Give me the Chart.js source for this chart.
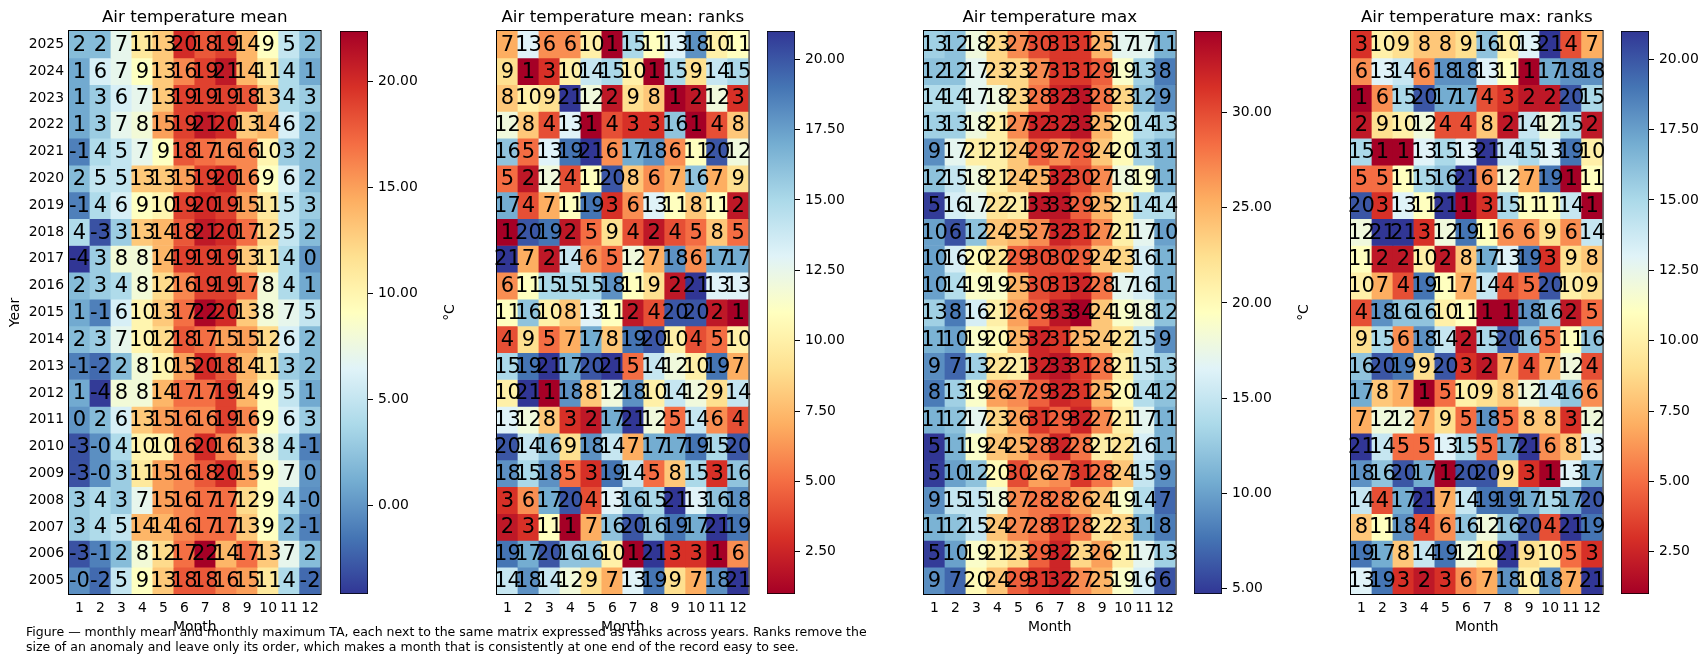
<!DOCTYPE html>
<html>
<head>
<meta charset="utf-8">
<script src="https://cdn.jsdelivr.net/npm/chart.js@4.4.1/dist/chart.umd.min.js"></script>
<style>
  html, body { margin: 0; padding: 0; background: #fff; }
  #fig { position: relative; width: 1707px; height: 663px; overflow: hidden; background: #fff; }
  #fig canvas { position: absolute; top: 0; }
  #caption {
    position: absolute; left: 26px; top: 624px;
    font-family: "DejaVu Sans"; font-size: 12.5px; line-height: 15px;
    color: #000; white-space: nowrap;
  }
</style>
</head>
<body>
<div id="fig">
  <div id="caption">Figure — monthly mean and monthly maximum TA, each next to the same matrix expressed as ranks across years. Ranks remove the<br>size of an anomaly and leave only its order, which makes a month that is consistently at one end of the record easy to see.</div>
</div>
<script>
// rows top to bottom, as shown in the figure
const years = [2025, 2024, 2023, 2022, 2021, 2020, 2019, 2018, 2017, 2016, 2015,
  2014, 2013, 2012, 2011, 2010, 2009, 2008, 2007, 2006, 2005];
const months = ["1", "2", "3", "4", "5", "6", "7", "8", "9", "10", "11", "12"];

// monthly mean air temperature (°C)
const meanTemp = [
  [2, 2, 7, 11, 13, 20, 18, 19, 14, 9, 5, 2],
  [1, 6, 7, 9, 13, 16, 19, 21, 14, 11, 4, 1],
  [1, 3, 6, 7, 13, 19, 19, 19, 18, 13, 4, 3],
  [1, 3, 7, 8, 15, 19, 21, 20, 13, 14, 6, 2],
  [-1, 4, 5, 7, 9, 18, 17, 16, 16, 10, 3, 2],
  [2, 5, 5, 13, 13, 15, 19, 20, 16, 9, 6, 2],
  [-1, 4, 6, 9, 10, 19, 20, 19, 15, 11, 5, 3],
  [4, -3, 3, 13, 14, 18, 21, 20, 17, 12, 5, 2],
  [-4.2, 3, 8, 8, 14, 19, 19, 19, 13, 11, 4, 0],
  [2, 3, 4, 8, 12, 16, 19, 19, 17, 8, 4, 1],
  [1, -1, 6, 10, 13, 17, 22, 20, 13, 8, 7, 5],
  [2, 3, 7, 10, 12, 18, 17, 15, 15, 12, 6, 2],
  [-1, -2, 2, 8, 10, 15, 20, 18, 14, 11, 3, 2],
  [1, -4, 8, 8, 14, 17, 17, 19, 14, 9, 5, 1],
  [0, 2, 6, 13, 15, 16, 16, 19, 16, 9, 6, 3],
  [-3, -0.3, 4, 10, 10, 16, 20, 16, 13, 8, 4, -1],
  [-3, -0.3, 3, 11, 15, 16, 18, 20, 15, 9, 7, 0],
  [3, 4, 3, 7, 15, 16, 17, 17, 12, 9, 4, -0.3],
  [3, 4, 5, 14, 14, 16, 17, 17, 13, 9, 2, -1],
  [-3, -1, 2, 8, 12, 17, 22.4, 14, 17, 13, 7, 2],
  [-0.3, -2, 5, 9, 13, 18, 18, 16, 15, 11, 4, -2]
];

const meanRank = [
  [7, 13, 6, 6, 10, 1, 15, 11, 13, 18, 10, 11],
  [9, 1, 3, 10, 14, 15, 10, 1, 15, 9, 14, 15],
  [8, 10, 9, 21, 12, 2, 9, 8, 1, 2, 12, 3],
  [12, 8, 4, 13, 1, 4, 3, 3, 16, 1, 4, 8],
  [16, 5, 13, 19, 21, 6, 17, 18, 6, 11, 20, 12],
  [5, 2, 12, 4, 11, 20, 8, 6, 7, 16, 7, 9],
  [17, 4, 7, 11, 19, 3, 6, 13, 11, 8, 11, 2],
  [1, 20, 19, 2, 5, 9, 4, 2, 4, 5, 8, 5],
  [21, 7, 2, 14, 6, 5, 12, 7, 18, 6, 17, 17],
  [6, 11, 15, 15, 15, 18, 11, 9, 2, 21, 13, 13],
  [11, 16, 10, 8, 13, 11, 2, 4, 20, 20, 2, 1],
  [4, 9, 5, 7, 17, 8, 19, 20, 10, 4, 5, 10],
  [15, 19, 21, 17, 20, 21, 5, 14, 12, 10, 19, 7],
  [10, 21, 1, 18, 8, 12, 18, 10, 14, 12, 9, 14],
  [13, 12, 8, 3, 2, 17, 21, 12, 5, 14, 6, 4],
  [20, 14, 16, 9, 18, 14, 7, 17, 17, 19, 15, 20],
  [18, 15, 18, 5, 3, 19, 14, 5, 8, 15, 3, 16],
  [3, 6, 17, 20, 4, 13, 16, 15, 21, 13, 16, 18],
  [2, 3, 11, 1, 7, 16, 20, 16, 19, 17, 21, 19],
  [19, 17, 20, 16, 16, 10, 1, 21, 3, 3, 1, 6],
  [14, 18, 14, 12, 9, 7, 13, 19, 9, 7, 18, 21]
];

// monthly maximum air temperature (°C)
const maxTemp = [
  [13, 12, 18, 23, 27, 30, 31, 31, 25, 17, 17, 11],
  [12, 12, 17, 23, 23, 27, 31, 31, 29, 19, 13, 8],
  [14, 14, 17, 18, 23, 28, 32, 33, 28, 23, 12, 9],
  [13, 13, 18, 21, 27, 32, 32, 33, 25, 20, 14, 13],
  [9, 17, 21, 21, 24, 29, 27, 29, 24, 20, 13, 11],
  [12, 15, 18, 21, 24, 25, 32, 30, 27, 18, 19, 11],
  [5, 16, 17, 22, 21, 33, 33, 29, 25, 21, 14, 14],
  [10, 6, 12, 24, 25, 27, 32, 31, 27, 21, 17, 10],
  [10, 16, 20, 22, 29, 30, 30, 29, 24, 23, 16, 11],
  [10, 14, 19, 19, 25, 30, 31, 32, 28, 17, 16, 11],
  [13, 8, 16, 21, 26, 29, 33, 34.3, 24, 19, 18, 12],
  [11, 10, 19, 20, 25, 32, 31, 25, 24, 22, 15, 9],
  [9, 7, 13, 22, 21, 32, 33, 31, 28, 21, 15, 13],
  [8, 13, 19, 26, 27, 29, 32, 31, 25, 20, 14, 12],
  [11, 12, 17, 23, 26, 31, 29, 32, 27, 21, 17, 11],
  [4.7, 11, 19, 24, 25, 28, 32, 28, 21, 22, 16, 11],
  [5, 10, 12, 20, 30, 26, 27, 31, 28, 24, 15, 9],
  [9, 15, 15, 18, 27, 28, 28, 26, 24, 19, 14, 7],
  [11, 12, 15, 24, 27, 28, 31, 28, 22, 23, 11, 8],
  [5, 10, 19, 21, 23, 29, 32, 23, 26, 21, 17, 13],
  [9, 7, 20, 24, 29, 31, 32, 27, 25, 19, 16, 6]
];

const maxRank = [
  [3, 10, 9, 8, 8, 9, 16, 10, 13, 21, 4, 7],
  [6, 13, 14, 6, 18, 18, 13, 11, 1, 17, 18, 18],
  [1, 6, 15, 20, 17, 17, 4, 3, 2, 2, 20, 15],
  [2, 9, 10, 12, 4, 4, 8, 2, 14, 12, 15, 2],
  [15, 1, 1, 13, 15, 13, 21, 14, 15, 13, 19, 10],
  [5, 5, 11, 15, 16, 21, 6, 12, 7, 19, 1, 11],
  [20, 3, 13, 11, 21, 1, 3, 15, 11, 11, 14, 1],
  [12, 21, 21, 3, 12, 19, 11, 6, 6, 9, 6, 14],
  [11, 2, 2, 10, 2, 8, 17, 13, 19, 3, 9, 8],
  [10, 7, 4, 19, 11, 7, 14, 4, 5, 20, 10, 9],
  [4, 18, 16, 16, 10, 11, 1, 1, 18, 16, 2, 5],
  [9, 15, 6, 18, 14, 2, 15, 20, 16, 5, 11, 16],
  [16, 20, 19, 9, 20, 3, 2, 7, 4, 7, 12, 4],
  [17, 8, 7, 1, 5, 10, 9, 8, 12, 14, 16, 6],
  [7, 12, 12, 7, 9, 5, 18, 5, 8, 8, 3, 12],
  [21, 14, 5, 5, 13, 15, 5, 17, 21, 6, 8, 13],
  [18, 16, 20, 17, 1, 20, 20, 9, 3, 1, 13, 17],
  [14, 4, 17, 21, 7, 14, 19, 19, 17, 15, 17, 20],
  [8, 11, 18, 4, 6, 16, 12, 16, 20, 4, 21, 19],
  [19, 17, 8, 14, 19, 12, 10, 21, 9, 10, 5, 3],
  [13, 19, 3, 2, 3, 6, 7, 18, 10, 18, 7, 21]
];

// colorbar tick values
const meanTicks = [0, 5, 10, 15, 20];
const rankTicks = [2.5, 5, 7.5, 10, 12.5, 15, 17.5, 20];
const maxTicks = [5, 10, 15, 20, 25, 30];

// matplotlib RdYlBu anchors
const rdylbu = ["#a50026", "#d73027", "#f46d43", "#fdae61", "#fee090", "#ffffbf",
  "#e0f3f8", "#abd9e9", "#74add1", "#4575b4", "#313695"];

const hexRgb = (h) => [1, 3, 5].map((i) => parseInt(h.substr(i, 2), 16));

const cmap = (t, reversed) => {
  t = Math.min(1, Math.max(0, t));
  if (reversed) t = 1 - t;
  const p = t * (rdylbu.length - 1);
  const i = Math.min(rdylbu.length - 2, Math.floor(p));
  const f = p - i;
  const a = hexRgb(rdylbu[i]), b = hexRgb(rdylbu[i + 1]);
  const c = a.map((v, k) => Math.round(v + (b[k] - v) * f));
  return "rgb(" + c.join(",") + ")";
};

Chart.defaults.font.family = "DejaVu Sans";
Chart.defaults.color = "#000";

const FIG_H = 663;
const AXES_TOP = 31;
const AXES_BOTTOM = 594;
const AXES_W = 254;
const CB_W = 28;
const tickFont = { size: 13.9 };

const panels = [
  { title: "Air temperature mean", values: meanTemp, reversed: true, ticks: meanTicks, unit: "°C", left: 69, cbLeft: 340 },
  { title: "Air temperature mean: ranks", values: meanRank, reversed: false, ticks: rankTicks, unit: "", left: 497, cbLeft: 767 },
  { title: "Air temperature max", values: maxTemp, reversed: true, ticks: maxTicks, unit: "°C", left: 924, cbLeft: 1194 },
  { title: "Air temperature max: ranks", values: maxRank, reversed: false, ticks: rankTicks, unit: "", left: 1351, cbLeft: 1621 }
];

const fig = document.getElementById("fig");
const addCanvas = (left, width) => {
  const c = document.createElement("canvas");
  c.width = width;
  c.height = FIG_H;
  c.style.left = left + "px";
  fig.insertBefore(c, document.getElementById("caption"));
  return c;
};

// cell numbers, axes frame and title
const heatPlugin = {
  id: "heatText",
  afterDatasetsDraw(chart, args, opts) {
    const ctx = chart.ctx;
    const a = chart.chartArea;
    ctx.save();
    ctx.font = '21px "DejaVu Sans"';
    ctx.fillStyle = "#000";
    ctx.textAlign = "center";
    ctx.textBaseline = "middle";
    chart.data.datasets.forEach((ds, i) => {
      chart.getDatasetMeta(i).data.forEach((bar, j) => {
        ctx.fillText(opts.values[i][j].toFixed(0), bar.x, (bar.y + bar.base) / 2 + 1);
      });
    });
    ctx.strokeStyle = "#000";
    ctx.lineWidth = 1;
    ctx.strokeRect(a.left - 0.5, a.top - 0.5, a.right - a.left + 1, a.bottom - a.top + 1);
    ctx.font = '16.7px "DejaVu Sans"';
    ctx.fillText(opts.title, (a.left + a.right) / 2, 18);
    ctx.restore();
  }
};

const makeHeatmap = (p, idx) => {
  const padLeft = idx === 0 ? 69 : 2;
  const canvas = addCanvas(p.left - padLeft, padLeft + AXES_W + 2);
  const lo = Math.min(...p.values.flat());
  const hi = Math.max(...p.values.flat());
  const datasets = years.map((yr, r) => {
    const yi = years.length - 1 - r;
    return {
      label: String(yr),
      data: months.map(() => [yi - 0.5, yi + 0.5]),
      backgroundColor: p.values[r].map((v) => cmap((v - lo) / (hi - lo), p.reversed)),
      borderWidth: 0,
      barPercentage: 1,
      categoryPercentage: 1,
      grouped: false
    };
  });
  return new Chart(canvas, {
    type: "bar",
    data: { labels: months, datasets },
    options: {
      responsive: false,
      animation: false,
      layout: { padding: { top: AXES_TOP, right: 2, left: 0, bottom: 0 } },
      plugins: {
        legend: { display: false },
        tooltip: { enabled: false },
        heatText: { values: p.values, title: p.title }
      },
      scales: {
        x: {
          type: "category",
          grid: { display: false, drawTicks: false },
          border: { display: false },
          ticks: { font: tickFont, padding: 6, maxRotation: 0 },
          title: { display: true, text: "Month", font: tickFont, padding: { top: 0, bottom: 27.6 } },
          afterFit: (s) => { s.height = FIG_H - AXES_BOTTOM; }
        },
        y: {
          type: "linear",
          min: -0.5,
          max: years.length - 0.5,
          grid: { display: false, drawTicks: false },
          border: { display: false },
          afterBuildTicks: (s) => { s.ticks = years.map((y, r) => ({ value: r })); },
          ticks: {
            display: idx === 0,
            autoSkip: false,
            font: tickFont,
            padding: 5,
            callback: (v) => String(years[years.length - 1 - v])
          },
          title: { display: idx === 0, text: "Year", font: tickFont, padding: { top: 6.6, bottom: 0 } },
          afterFit: (s) => { s.width = padLeft; }
        }
      }
    },
    plugins: [heatPlugin]
  });
};

// colorbar label, drawn like matplotlib (reads bottom to top)
const cbPlugin = {
  id: "cbLabel",
  afterDraw(chart, args, opts) {
    if (!opts.text) return;
    const a = chart.chartArea;
    const ctx = chart.ctx;
    ctx.save();
    ctx.translate(a.left + opts.offset, (a.top + a.bottom) / 2);
    ctx.rotate(-Math.PI / 2);
    ctx.font = '13.9px "DejaVu Sans"';
    ctx.fillStyle = "#000";
    ctx.textAlign = "center";
    ctx.textBaseline = "middle";
    ctx.fillText(opts.text, 0, 0);
    ctx.restore();
  }
};

const makeColorbar = (p) => {
  const W = 130;
  const canvas = addCanvas(p.cbLeft - 1, W);
  const lo = Math.min(...p.values.flat());
  const hi = Math.max(...p.values.flat());
  return new Chart(canvas, {
    type: "bar",
    data: {
      labels: [""],
      datasets: [{
        data: [[lo, hi]],
        backgroundColor: (c) => {
          const a = c.chart.chartArea;
          if (!a) return null;
          const g = c.chart.ctx.createLinearGradient(0, a.bottom, 0, a.top);
          for (let i = 0; i <= 20; i++) g.addColorStop(i / 20, cmap(i / 20, p.reversed));
          return g;
        },
        borderColor: "#000",
        borderWidth: 1,
        borderSkipped: false,
        barPercentage: 1,
        categoryPercentage: 1
      }]
    },
    options: {
      responsive: false,
      animation: false,
      layout: { padding: { top: AXES_TOP, bottom: FIG_H - AXES_BOTTOM, left: 1, right: 0 } },
      plugins: {
        legend: { display: false },
        tooltip: { enabled: false },
        cbLabel: { text: p.unit, offset: 110 }
      },
      scales: {
        x: { display: false },
        y: {
          position: "right",
          min: lo,
          max: hi,
          grid: { drawOnChartArea: false, drawTicks: true, tickLength: 5, color: "#000" },
          border: { display: false },
          afterBuildTicks: (s) => { s.ticks = p.ticks.map((v) => ({ value: v })); },
          ticks: { font: tickFont, padding: 5, callback: (v) => v.toFixed(2) },
          afterFit: (s) => { s.width = W - 1 - CB_W; }
        }
      }
    },
    plugins: [cbPlugin]
  });
};

panels.forEach((p, i) => {
  makeHeatmap(p, i);
  makeColorbar(p);
});
</script>
</body>
</html>
